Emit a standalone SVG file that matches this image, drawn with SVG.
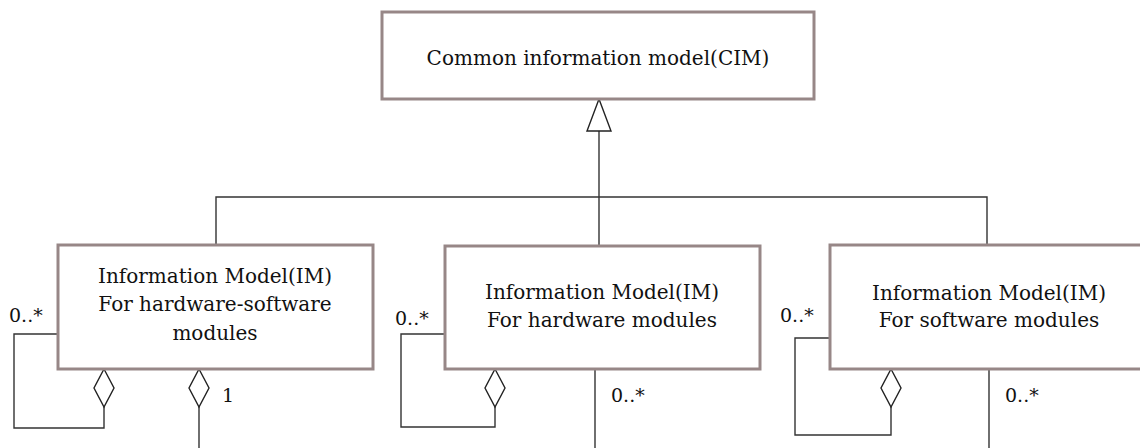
<svg xmlns="http://www.w3.org/2000/svg" xmlns:xlink="http://www.w3.org/1999/xlink" width="1140" height="448" viewBox="0 0 1140 448">
<style>
.box{fill:#fff;stroke:#978787;stroke-width:3}
.t{font-family:"DejaVu Serif","Liberation Serif",serif;font-size:20px;fill:#111;text-anchor:middle}
.lbl{font-family:"DejaVu Serif","Liberation Serif",serif;font-size:19px;fill:#111}
.ln{fill:none;stroke:#333;stroke-width:1.4}
.dia{fill:#fff;stroke:#222;stroke-width:1.4}
</style>
<defs>
<polygon id="diamond" class="dia" points="0,0 10,19 0,38 -10,19"/>
</defs>
<rect width="1140" height="448" fill="#fff"/>
<g id="connectors">
<polyline class="ln" points="599,131 599,246"/>
<polyline class="ln" points="216,245 216,197 987,197 987,245"/>
<polygon class="dia" points="599,99 611,131 587,131"/>
<polyline class="ln" points="58,334 14,334 14,428 104,428 104,407"/>
<use xlink:href="#diamond" x="104" y="369"/>
<polyline class="ln" points="199,407 199,448"/>
<use xlink:href="#diamond" x="199" y="369"/>
<polyline class="ln" points="445,334 401,334 401,427 495,427 495,407"/>
<use xlink:href="#diamond" x="495" y="369"/>
<polyline class="ln" points="595,369 595,448"/>
<polyline class="ln" points="830,338 795,338 795,435 891,435 891,407"/>
<use xlink:href="#diamond" x="891" y="369"/>
<polyline class="ln" points="989,369 989,448"/>
</g>
<g id="labels">
<text class="lbl" x="9" y="322">0..*</text>
<text class="lbl" x="222" y="402">1</text>
<text class="lbl" x="395" y="325">0..*</text>
<text class="lbl" x="611" y="402">0..*</text>
<text class="lbl" x="780" y="322">0..*</text>
<text class="lbl" x="1005" y="402">0..*</text>
</g>
<g id="cim">
<rect class="box" x="382" y="12" width="432" height="87"/>
<text class="t" x="598" y="65">Common information model(CIM)</text>
</g>
<g id="im-hwsw">
<rect class="box" x="58" y="245" width="315" height="124"/>
<text class="t" x="215" y="283">Information Model(IM)</text>
<text class="t" x="215" y="311">For hardware-software</text>
<text class="t" x="215" y="340">modules</text>
</g>
<g id="im-hw">
<rect class="box" x="445" y="246" width="315" height="123"/>
<text class="t" x="602" y="299">Information Model(IM)</text>
<text class="t" x="602" y="327">For hardware modules</text>
</g>
<g id="im-sw">
<rect class="box" x="830" y="245" width="320" height="124"/>
<text class="t" x="989" y="300">Information Model(IM)</text>
<text class="t" x="989" y="327">For software modules</text>
</g>
</svg>
